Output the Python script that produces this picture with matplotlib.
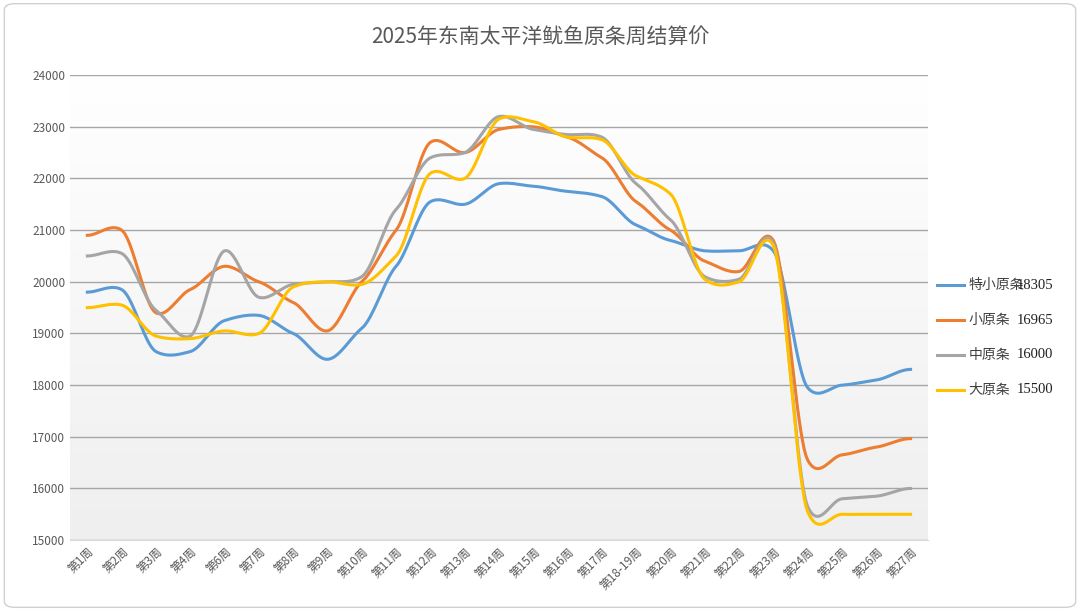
import matplotlib.pyplot as plt
import numpy as np
from matplotlib import font_manager
from matplotlib.colors import LinearSegmentedColormap
from matplotlib.patches import FancyBboxPatch

available = {f.name for f in font_manager.fontManager.ttflist}
cjk = [n for n in ["Noto Sans CJK SC", "Noto Sans CJK JP", "Noto Sans CJK TC", "Noto Sans CJK KR"]
       if n in available]
if not cjk:
    cjk = [f.name for f in font_manager.fontManager.ttflist if "CJK" in f.name][:1]
plt.rcParams["font.family"] = cjk + ["DejaVu Sans"]

weeks = ["第1周", "第2周", "第3周", "第4周", "第6周", "第7周", "第8周", "第9周", "第10周",
         "第11周", "第12周", "第13周", "第14周", "第15周", "第16周", "第17周", "第18-19周",
         "第20周", "第21周", "第22周", "第23周", "第24周", "第25周", "第26周", "第27周"]
tiny = [19800, 19850, 18650, 18650, 19250, 19350, 19000, 18500, 19100, 20300, 21550, 21500, 21900,
        21850, 21750, 21650, 21100, 20800, 20600, 20600, 20600, 17950, 18000, 18100, 18305]
small = [20900, 21000, 19400, 19850, 20300, 20000, 19600, 19050, 20000, 21000, 22700, 22500, 22950,
         23000, 22800, 22400, 21550, 21000, 20400, 20200, 20800, 16550, 16650, 16800, 16965]
medium = [20500, 20550, 19450, 18950, 20600, 19700, 19950, 20000, 20100, 21400, 22400, 22500, 23200,
          22950, 22850, 22800, 21900, 21200, 20100, 20050, 20750, 15650, 15800, 15850, 16000]
large = [19500, 19550, 18950, 18900, 19050, 19000, 19900, 20000, 19950, 20500, 22100, 22000, 23150,
         23100, 22800, 22750, 22050, 21700, 20050, 20000, 20700, 15550, 15500, 15500, 15500]
series = [("特小原条", tiny, "#5b9bd5"), ("小原条", small, "#ed7d31"),
          ("中原条", medium, "#a5a5a5"), ("大原条", large, "#ffc000")]


def smooth(y, n=20, k=0.3):
    # cubic Hermite curve through the points with softened tangents
    y = np.asarray(y, float)
    m = np.zeros_like(y)
    m[1:-1] = k * (y[2:] - y[:-2])
    xs, ys = [], []
    for i in range(len(y) - 1):
        t = np.linspace(0, 1, n, endpoint=False)
        h00 = 2 * t ** 3 - 3 * t ** 2 + 1
        h10 = t ** 3 - 2 * t ** 2 + t
        h01 = -2 * t ** 3 + 3 * t ** 2
        h11 = t ** 3 - t ** 2
        xs.append(i + t)
        ys.append(h00 * y[i] + h10 * m[i] + h01 * y[i + 1] + h11 * m[i + 1])
    xs.append([len(y) - 1])
    ys.append([y[-1]])
    return np.concatenate(xs), np.concatenate(ys)


fig = plt.figure(figsize=(10.8, 6.11), dpi=100)
fig.patches.append(FancyBboxPatch((0.004, 0.006), 0.992, 0.988, boxstyle="round,pad=0,rounding_size=0.01",
                                  transform=fig.transFigure, fc="white", ec="#d0d0d0", lw=1, zorder=-10))
ax = fig.add_axes([0.065, 0.116, 0.794, 0.761])
n = len(weeks)
ax.set_xlim(-0.5, n - 0.5)
ax.set_ylim(15000, 24000)
bg = LinearSegmentedColormap.from_list("bg", ["#efefef", "#ffffff"])
grad = np.linspace(0, 1, 256).reshape(-1, 1)
ax.imshow(grad, extent=[-0.5, n - 0.5, 15000, 24000], aspect="auto", cmap=bg,
          origin="lower", zorder=0)
ax.set_yticks(range(15000, 24001, 1000))
ax.grid(axis="y", color="#a6a6a6", lw=1, zorder=1)
for s in ax.spines.values():
    s.set_visible(False)
ax.spines["bottom"].set_visible(True)
ax.spines["bottom"].set_color("#d9d9d9")
ax.tick_params(length=0, labelsize=8.5, colors="#595959")
ax.set_xticks(range(n))
ax.set_xticklabels(weeks, rotation=45, ha="right", rotation_mode="anchor", fontsize=8.5)

for name, vals, col in series:
    xs, ys = smooth(vals)
    ax.plot(xs, ys, color=col, lw=2.2, zorder=3, label=name)

fig.text(0.5, 0.938, "2025年东南太平洋鱿鱼原条周结算价", ha="center", va="center",
         fontsize=15, color="#595959")
for k, (name, vals, col) in enumerate(series):
    y = 0.533 - k * 0.057
    fig.add_artist(plt.Line2D([0.868, 0.893], [y, y], color=col, lw=2.2, transform=fig.transFigure))
    fig.text(0.897, y, name, va="center", fontsize=10, color="#404040")
    fig.text(0.975, y, str(vals[-1]), va="center", ha="right", fontsize=10.5,
             color="#202020", family="Liberation Serif")

fig.savefig("out.png", dpi=100)
